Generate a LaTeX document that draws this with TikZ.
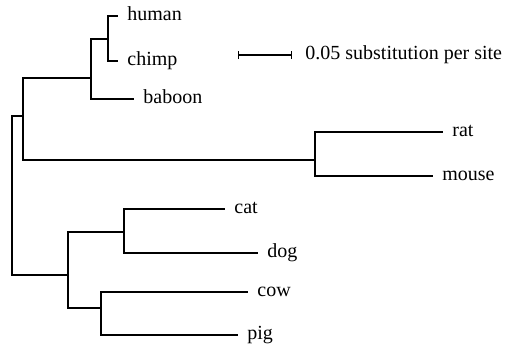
\documentclass[tikz,border=0pt]{standalone}
\usepackage{fontspec}
\setmainfont{Liberation Serif}
\usetikzlibrary{arrows.meta}

\begin{document}
\begin{tikzpicture}[x=0.5pt,y=-0.5pt,
        branch/.style={line width=0.6pt},
        taxon/.style={anchor=mid west,inner sep=4.5pt,font=\fontsize{10}{12}\selectfont}]
    \useasboundingbox (0,0) rectangle (505,350);
    % internal nodes of the tree
    \coordinate (root) at (12,195);
    \coordinate (upper) at (23,116);
    \coordinate (primates) at (91,78);
    \coordinate (hominids) at (108,39);
    \coordinate (rodents) at (315,160);
    \coordinate (lower) at (68,275);
    \coordinate (carnivores) at (124,232);
    \coordinate (ungulates) at (101,308);
    % leaves
    \node[taxon] (human) at (118,16) {human};
    \node[taxon] (chimp) at (118,61) {chimp};
    \node[taxon] (baboon) at (134,99) {baboon};
    \node[taxon] (rat) at (443,132) {rat};
    \node[taxon] (mouse) at (433,176) {mouse};
    \node[taxon] (cat) at (225,209) {cat};
    \node[taxon] (dog) at (258,253) {dog};
    \node[taxon] (cow) at (248,292) {cow};
    \node[taxon] (pig) at (238,335) {pig};
    % branches
    \draw[branch] (root) |- (upper);
    \draw[branch] (root) |- (lower);
    \draw[branch] (upper) |- (primates);
    \draw[branch] (upper) |- (rodents);
    \draw[branch] (primates) |- (hominids);
    \draw[branch] (primates) |- (baboon.mid west);
    \draw[branch] (hominids) |- (human.mid west);
    \draw[branch] (hominids) |- (chimp.mid west);
    \draw[branch] (rodents) |- (rat.mid west);
    \draw[branch] (rodents) |- (mouse.mid west);
    \draw[branch] (lower) |- (carnivores);
    \draw[branch] (lower) |- (ungulates);
    \draw[branch] (carnivores) |- (cat.mid west);
    \draw[branch] (carnivores) |- (dog.mid west);
    \draw[branch] (ungulates) |- (cow.mid west);
    \draw[branch] (ungulates) |- (pig.mid west);
    % scale bar
    \coordinate (bar) at (238,55);
    \node[taxon,inner sep=6.5pt] (scale) at (292,55) {0.05 substitution per site};
    \draw[branch,{Bar[width=4pt]}-{Bar[width=4pt]}] (bar) -- (scale.mid west);
\end{tikzpicture}
\end{document}
